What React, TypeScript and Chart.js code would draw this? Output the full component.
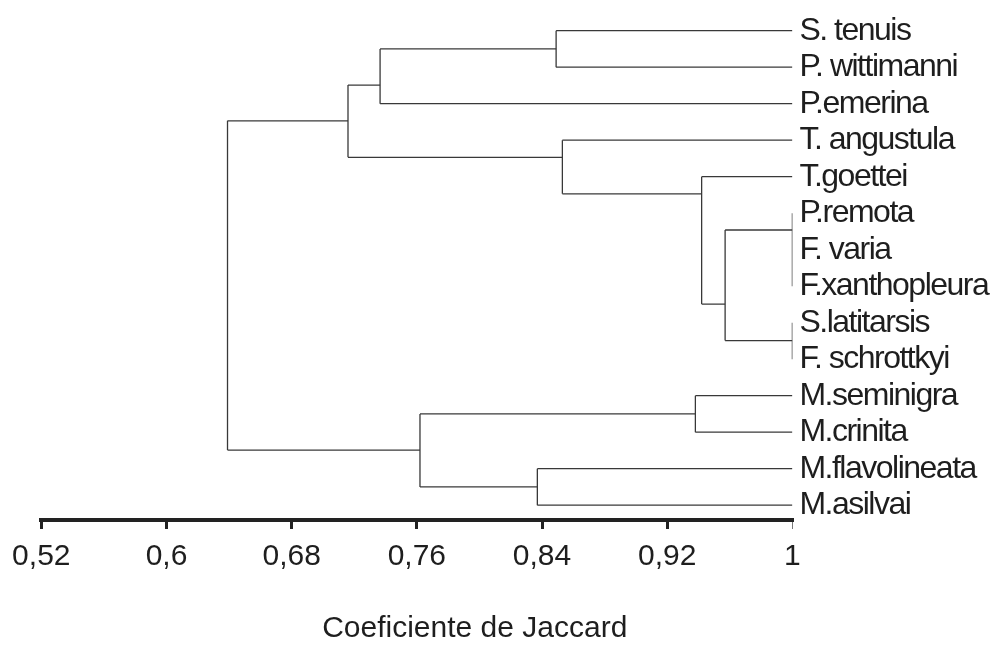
import React, { useEffect, useRef } from "react";
import { Chart, Scale, registerables } from "chart.js";

Chart.register(...registerables);

// Leaves (top to bottom)
const LEAVES = [
  "S. tenuis",
  "P. wittimanni",
  "P.emerina",
  "T. angustula",
  "T.goettei",
  "P.remota",
  "F. varia",
  "F.xanthopleura",
  "S.latitarsis",
  "F. schrottkyi",
  "M.seminigra",
  "M.crinita",
  "M.flavolineata",
  "M.asilvai",
];

// Internal nodes: ids start after the leaves (14, 15, ...)
const NODE_CHILDREN: number[][] = [
  [0, 1], // 14
  [14, 2], // 15
  [5, 6, 7], // 16
  [8, 9], // 17
  [16, 17], // 18
  [4, 18], // 19
  [3, 19], // 20
  [15, 20], // 21
  [10, 11], // 22
  [12, 13], // 23
  [22, 23], // 24
  [21, 24], // 25 root
];
// Jaccard similarity at which each node joins
const NODE_HEIGHT = [0.849, 0.7365, 1.0, 1.0, 0.957, 0.942, 0.853, 0.716, 0.938, 0.837, 0.762, 0.639];
// Vertical position of each node (in leaf-row units)
const NODE_ROW = [0.5, 1.49, 5.46, 8.49, 7.49, 4.47, 3.47, 2.47, 10.5, 12.5, 11.49, 7.0];

const TICK_VALUES = [0.52, 0.6, 0.68, 0.76, 0.84, 0.92, 1];
const TICK_LABELS = ["0,52", "0,6", "0,68", "0,76", "0,84", "0,92", "1"];
const AXIS_TITLE = "Coeficiente de Jaccard";

const FONT = "'Liberation Sans', Arial, sans-serif";
const TEXT = "#1e1e1e";
const LINE = "#383838";

function nodeX(id: number) {
  return id < LEAVES.length ? 1 : NODE_HEIGHT[id - LEAVES.length];
}
function nodeY(id: number) {
  return id < LEAVES.length ? id : NODE_ROW[id - LEAVES.length];
}

function buildSegments() {
  const segs: { x: number; y: number }[][] = [];
  NODE_CHILDREN.forEach((children, k) => {
    const h = NODE_HEIGHT[k];
    const ys = children.map(nodeY);
    segs.push([
      { x: h, y: Math.min(...ys) },
      { x: h, y: Math.max(...ys) },
    ]);
    children.forEach((c) => {
      const cx = nodeX(c);
      if (cx > h) {
        segs.push([
          { x: h, y: nodeY(c) },
          { x: cx, y: nodeY(c) },
        ]);
      }
    });
  });
  return segs;
}

const titlePlugin = {
  id: "axisTitle",
  afterDraw(chart: any) {
    const ctx = chart.ctx;
    const xs = chart.scales.x;
    ctx.save();
    ctx.font = `30px ${FONT}`;
    ctx.fillStyle = TEXT;
    ctx.textAlign = "center";
    ctx.textBaseline = "middle";
    ctx.fillText(AXIS_TITLE, xs.getPixelForValue(0.797), 621);
    ctx.restore();
  },
};

export default function App() {
  const ref = useRef<HTMLCanvasElement>(null);
  useEffect(() => {
    if (!ref.current) return;
    const segs = buildSegments();
    const chart = new Chart(ref.current, {
      type: "scatter",
      data: {
        datasets: segs.map((s) => ({
          data: s,
          showLine: true,
          borderColor: LINE,
          borderWidth: 1.3,
          pointRadius: 0,
          fill: false,
        })),
      },
      options: {
        animation: false,
        responsive: false,
        events: [],
        layout: { padding: { left: 33.3, top: 0.8, right: 0, bottom: 0 } },
        plugins: {
          legend: { display: false },
          tooltip: { enabled: false },
          title: { display: false },
        },
        scales: {
          x: {
            type: "linear",
            position: "bottom",
            min: 0.52,
            max: 1,
            afterBuildTicks: (scale: any) => {
              scale.ticks = TICK_VALUES.map((v) => ({ value: v }));
            },
            afterFit: (scale: any) => {
              scale.height = 124;
              scale.paddingLeft = 0;
              scale.paddingRight = 0;
            },
            ticks: {
              autoSkip: false,
              maxRotation: 0,
              padding: 10,
              color: TEXT,
              font: { family: FONT, size: 30 },
              callback: (_v: any, i: number) => TICK_LABELS[i],
            },
            grid: {
              drawOnChartArea: false,
              drawTicks: true,
              tickLength: 9,
              color: (c: any) => (c.index === TICK_VALUES.length - 1 ? "#777" : "#222"),
              lineWidth: (c: any) => (c.index === TICK_VALUES.length - 1 ? 1 : 3),
            },
            border: { display: true, color: "#222", width: 4 },
          },
          y: {
            type: "linear",
            position: "right",
            reverse: true,
            min: -0.6,
            max: 13.405,
            afterBuildTicks: (scale: any) => {
              scale.ticks = LEAVES.map((_, i) => ({ value: i }));
            },
            afterFit: (scale: any) => {
              scale.width = 200.6;
              scale.paddingTop = 0;
              scale.paddingBottom = 0;
              // condensed label spacing like the reference
              scale.draw = function (area: any) {
                const c = this.ctx;
                const prev = c.letterSpacing;
                c.letterSpacing = "-1.5px";
                Scale.prototype.draw.call(this, area);
                c.letterSpacing = prev;
              };
            },
            ticks: {
              autoSkip: false,
              padding: 7,
              color: TEXT,
              font: { family: FONT, size: 32 },
              callback: (v: any) => LEAVES[Math.round(v)],
            },
            grid: { display: false, drawTicks: false },
            border: { display: false },
          },
        },
      },
      plugins: [titlePlugin],
    });
    return () => chart.destroy();
  }, []);
  return (
    <div style={{ width: 985, height: 636 }}>
      <canvas ref={ref} width={985} height={636} style={{ display: "block" }} />
    </div>
  );
}
